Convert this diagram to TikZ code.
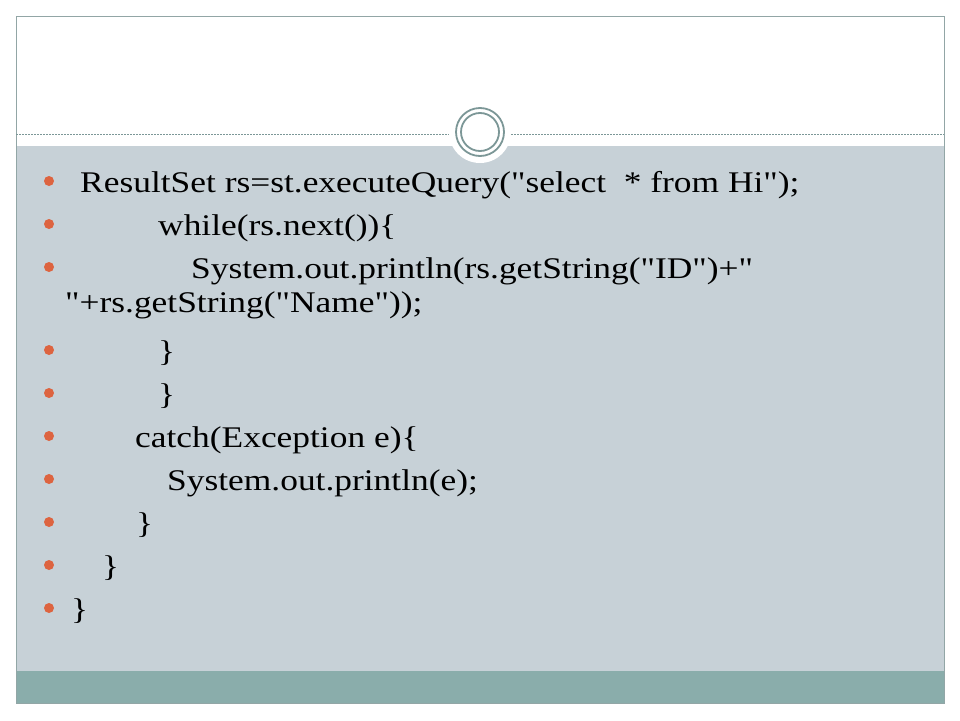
\documentclass[tikz,border=0pt]{standalone}
\usepackage{fontspec}
\setmainfont{Liberation Serif}[FakeStretch=1.18, Ligatures=TeXOff]
\newcommand{\qq}{\char34\relax}
\definecolor{panelgray}{HTML}{C7D1D7}
\definecolor{stripteal}{HTML}{8AADAB}
\definecolor{ringgray}{HTML}{7C9797}
\definecolor{bordergray}{HTML}{92A6A6}
\definecolor{bulletorange}{HTML}{DD6440}
\tikzset{
  codeline/.style={anchor=base west, inner sep=0pt, font=\fontsize{30}{34}\selectfont, text=black},
  bulletdot/.style={circle, fill=bulletorange, inner sep=0pt, minimum size=10pt},
}
\begin{document}
\begin{tikzpicture}[x=1pt,y=-1pt]
\useasboundingbox (0,0) rectangle (960,720);
\fill[white] (0,0) rectangle (960,720);
% panels
\fill[panelgray] (16,146) rectangle (944,671);
\fill[stripteal] (16,671) rectangle (944,703);
\draw[bordergray, line width=1pt] (16,16) rectangle (944,703);
% dashed separator
\draw[ringgray, line width=0.6pt, dash pattern=on 2pt off 1pt] (16,134) -- (944,134);
% circle emblem
\fill[white] (480,132) circle (31);
\draw[ringgray, line width=1.8pt] (480,132) circle (24);
\draw[ringgray, line width=1.8pt] (480,132) circle (19);
% bullets
\foreach \i/\y in {1/181,2/224,3/267,4/350,5/393,6/436,7/479,8/522,9/565,10/608}{
  \node[bulletdot] (b\i) at (49,\y) {};
}
% text lines
\node[codeline] (t1) at (80,192) {ResultSet rs=st.executeQuery(\qq select \ * from Hi\qq);};
\node[codeline] (t2) at (158,235) {while(rs.next())\{};
\node[codeline] (t3) at (191,278) {System.out.println(rs.getString(\qq ID\qq)+\qq};
\node[codeline] (t3b) at (65,312) {\qq+rs.getString(\qq Name\qq));};
\node[codeline] (t4) at (158,361) {\}};
\node[codeline] (t5) at (158,404) {\}};
\node[codeline] (t6) at (135,447) {catch(Exception e)\{};
\node[codeline] (t7) at (167,490) {System.out.println(e);};
\node[codeline] (t8) at (136,533) {\}};
\node[codeline] (t9) at (102,576) {\}};
\node[codeline] (t10) at (71,619) {\}};
\end{tikzpicture}
\end{document}
